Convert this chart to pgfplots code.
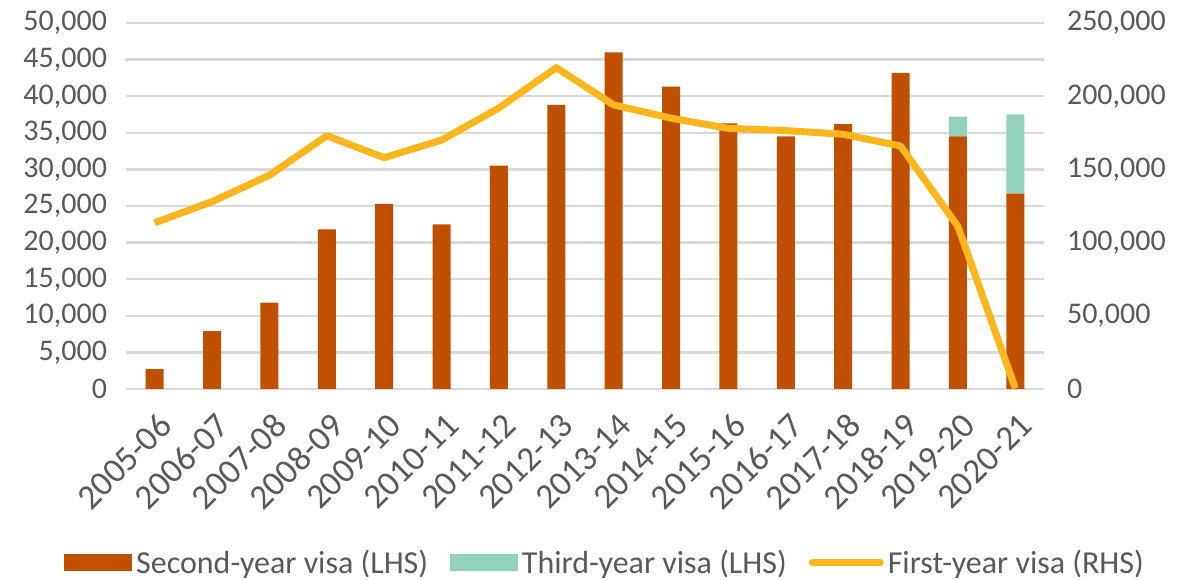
\documentclass[border=0pt]{standalone}
\usepackage{pgfplots}
\pgfplotsset{compat=1.18}
\usepackage{fontspec}
\setmainfont{Carlito}
\definecolor{barc}{HTML}{C05000}
\definecolor{thirdc}{HTML}{92D2BA}
\definecolor{linec}{HTML}{FFB61C}
\definecolor{txtc}{HTML}{595959}
\definecolor{gridc}{HTML}{D9D9D9}
\begin{document}
\begin{tikzpicture}
\useasboundingbox (0,0) rectangle (598bp,290bp);
\pgfplotsset{
  common/.style={
    at={(63bp,95.5bp)}, anchor=south west,
    width=459bp, height=183bp, scale only axis,
    xmin=-0.5, xmax=15.5,
    tick style={draw=none},
    ticklabel style={font=\fontsize{15bp}{17bp}\selectfont, text=txtc},
    /pgf/number format/.cd, fixed, 1000 sep={,}, assume math mode=true,
  }
}
\begin{axis}[common,
  ymin=0, ymax=50000, ytick={0,5000,...,50000},
  scaled y ticks=false,
  axis line style={draw=none},
  ymajorgrids, grid style={gridc, line width=1.2bp},
  xtick={0,...,15},
  xticklabels={2005-06,2006-07,2007-08,2008-09,2009-10,2010-11,2011-12,2012-13,2013-14,2014-15,2015-16,2016-17,2017-18,2018-19,2019-20,2020-21},
  xticklabel style={font=\fontsize{17.5bp}{19bp}\selectfont, xshift=8bp, yshift=-13bp, rotate=45, anchor=east},
  yticklabel style={xshift=-6bp},
  ybar stacked, bar width=9bp,
]
\addplot[fill=barc, draw=none] coordinates {
(0,2700) (1,7900) (2,11800) (3,21800) (4,25300) (5,22500) (6,30500) (7,38800)
(8,46000) (9,41300) (10,36300) (11,34500) (12,36200) (13,43200) (14,34500) (15,26700)};
\addplot[fill=thirdc, draw=none] coordinates {
(0,0) (1,0) (2,0) (3,0) (4,0) (5,0) (6,0) (7,0)
(8,0) (9,0) (10,0) (11,0) (12,0) (13,0) (14,2700) (15,10800)};
\end{axis}
\begin{axis}[common,
  ymin=0, ymax=250000, ytick={0,50000,...,250000},
  scaled y ticks=false,
  axis y line*=right, axis x line=none,
  y axis line style={draw=none},
  yticklabel style={xshift=8bp, anchor=west},
  xtick=\empty,
  legend columns=3,
  legend style={at={(0.523,-0.475)}, anchor=center, draw=none, fill=none,
    font=\fontsize{16bp}{18bp}\selectfont, text=txtc,
    /tikz/every even column/.append style={column sep=9bp}},
]
\addlegendimage{legend image code/.code={\fill[barc] (0bp,-4bp) rectangle (33.5bp,4bp);}}
\addlegendentry{Second-year visa (LHS)}
\addlegendimage{legend image code/.code={\fill[thirdc] (0bp,-4bp) rectangle (33.5bp,4bp);}}
\addlegendentry{Third-year visa (LHS)}
\addplot[linec, line width=3.5bp, line join=round,
  legend image code/.code={\draw[linec, line width=3.5bp, line cap=round] (1bp,0) -- (35bp,0);}] coordinates {
(0,113500) (1,128000) (2,146000) (3,173000) (4,158000) (5,170000) (6,192000) (7,219500)
(8,194000) (9,185000) (10,178000) (11,176500) (12,174000) (13,166000) (14,111000) (15,500)};
\addlegendentry{First-year visa (RHS)}
\end{axis}
\end{tikzpicture}
\end{document}
